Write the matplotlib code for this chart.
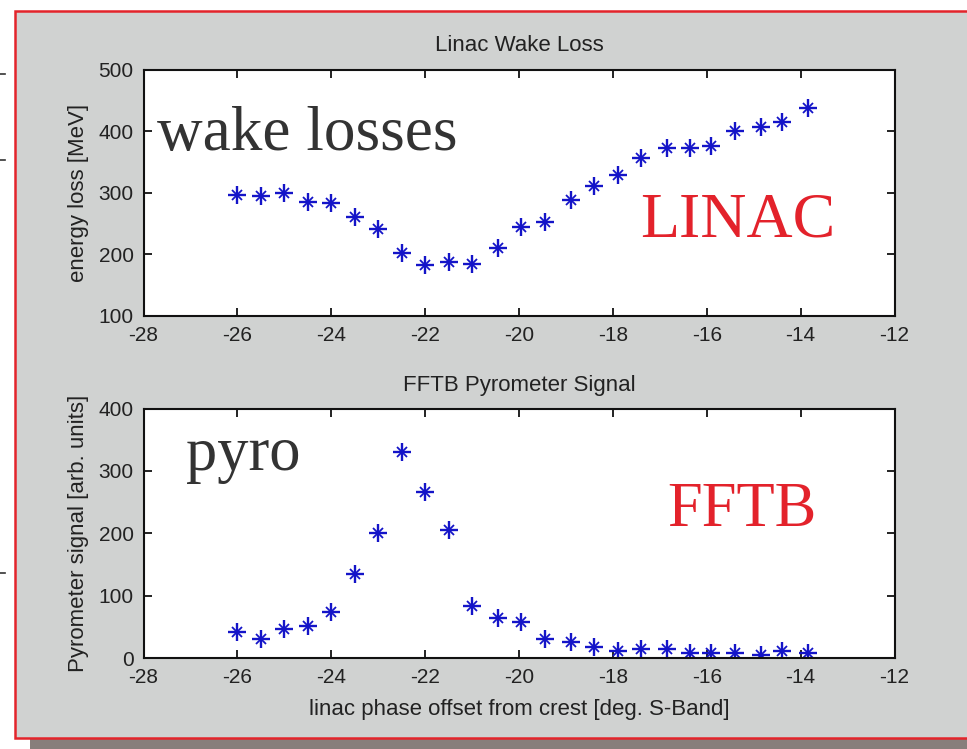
import matplotlib
matplotlib.use("Agg")
import matplotlib.pyplot as plt
from matplotlib.patches import Rectangle
from matplotlib.lines import Line2D

# ---- data ----
phase = [-26.0, -25.5, -25.0, -24.5, -24.0, -23.5, -23.0, -22.5, -22.0, -21.5,
         -21.0, -20.45, -19.95, -19.45, -18.9, -18.4, -17.9, -17.4, -16.85,
         -16.35, -15.9, -15.4, -14.85, -14.4, -13.85]
wake_loss = [297, 295, 300, 285, 283, 261, 241, 202, 182, 188,
             184, 210, 244, 252, 288, 311, 329, 356, 372,
             373, 376, 401, 407, 414, 437]
pyro_signal = [41, 31, 47, 52, 74, 135, 200, 330, 267, 205,
               84, 64, 58, 31, 25, 17, 12, 14, 14,
               8, 8, 8, 5, 11, 8]

xticks = [-28, -26, -24, -22, -20, -18, -16, -14, -12]
yticks_top = [100, 200, 300, 400, 500]
yticks_bot = [0, 100, 200, 300, 400]

W, H = 967, 749
fig = plt.figure(figsize=(W / 100, H / 100), dpi=100, facecolor="white")

def fx(px):
    return px / W

def fy(py):
    return 1 - py / H

# slide background: shadow, gray panel with red border
fig.patches.append(Rectangle((fx(30), 0), 1.0, fy(738), transform=fig.transFigure,
                             facecolor="#877e7b", edgecolor="none", zorder=0))
fig.patches.append(Rectangle((fx(15), fy(738)), 1.2, fy(11) - fy(738),
                             transform=fig.transFigure, facecolor="#d0d2d1",
                             edgecolor="#e3242b", linewidth=1.8, zorder=1))
# small marks at the left edge
for yy in (74, 160, 573):
    fig.lines.append(Line2D([0, fx(5)], [fy(yy), fy(yy)], transform=fig.transFigure,
                            color="#333333", linewidth=1.2))

font = "Liberation Sans"
fs = 15
fs_lab = 16
gray_txt = "#333333"
red_txt = "#e3222b"
mcol = "#1414c8"

def style(ax, yticks, ylim):
    ax.set_xlim(-28, -12)
    ax.set_ylim(*ylim)
    ax.set_xticks(xticks)
    ax.set_yticks(yticks)
    ax.set_xticklabels([str(t) for t in xticks], family=font, fontsize=fs, color="#222222")
    ax.set_yticklabels([str(t) for t in yticks], family=font, fontsize=fs, color="#222222")
    ax.tick_params(direction="in", length=6, width=1.3, top=True, right=True, color="#111111")
    ax.tick_params(axis="x", pad=7)
    ax.tick_params(axis="y", pad=7)
    for s in ax.spines.values():
        s.set_linewidth(1.5)
        s.set_color("#111111")
    ax.set_facecolor("white")

def draw(ax, x, y):
    ax.plot(x, y, linestyle="none", marker="+", markersize=13, markeredgewidth=1.7, color=mcol)
    ax.plot(x, y, linestyle="none", marker="x", markersize=7, markeredgewidth=1.3, color=mcol)

ax1 = fig.add_axes([fx(143.5), fy(316), (894.5 - 143.5) / W, (316 - 69.5) / H])
ax1.set_zorder(3)
style(ax1, yticks_top, (100, 500))
draw(ax1, phase, wake_loss)
ax1.set_title("Linac Wake Loss", family=font, fontsize=fs_lab, color="#222222", pad=13)
ax1.set_ylabel("energy loss [MeV]", family=font, fontsize=fs_lab, color="#222222")
ax1.yaxis.set_label_coords((89 - 143.5) / 751, 0.5)
ax1.text(0.018, 0.673, "wake losses", transform=ax1.transAxes, family="Liberation Serif",
         fontsize=45.5, color=gray_txt, va="baseline", ha="left")
ax1.text(0.661, 0.3245, "LINAC", transform=ax1.transAxes, family="Liberation Serif",
         fontsize=46, color=red_txt, va="baseline", ha="left")

ax2 = fig.add_axes([fx(143.5), fy(658), (894.5 - 143.5) / W, (658 - 408.6) / H])
ax2.set_zorder(3)
style(ax2, yticks_bot, (0, 400))
draw(ax2, phase, pyro_signal)
ax2.set_title("FFTB Pyrometer Signal", family=font, fontsize=fs_lab, color="#222222", pad=13)
ax2.set_ylabel("Pyrometer signal [arb. units]", family=font, fontsize=fs_lab, color="#222222")
ax2.yaxis.set_label_coords((89 - 143.5) / 751, 0.5)
ax2.set_xlabel("linac phase offset from crest [deg. S-Band]", family=font, fontsize=fs_lab,
               color="#222222")
ax2.xaxis.set_label_coords(0.5, -0.165)
ax2.text(0.0566, 0.754, "pyro", transform=ax2.transAxes, family="Liberation Serif",
         fontsize=45, color=gray_txt, va="baseline", ha="left")
ax2.text(0.698, 0.529, "FFTB", transform=ax2.transAxes, family="Liberation Serif",
         fontsize=45, color=red_txt, va="baseline", ha="left")

fig.savefig("out.png", dpi=100, facecolor=fig.get_facecolor())
